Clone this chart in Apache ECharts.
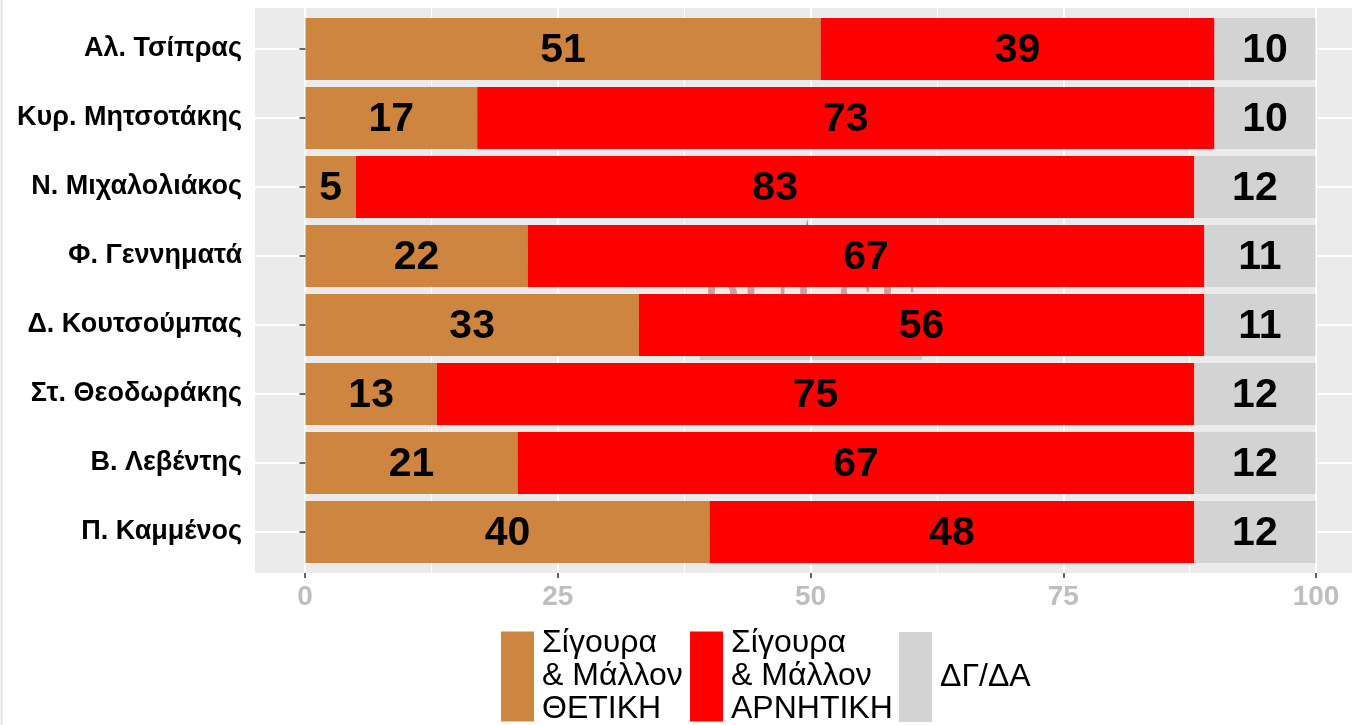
<!DOCTYPE html>
<html>
<head>
<meta charset="utf-8">
<script src="https://cdn.jsdelivr.net/npm/echarts@6/dist/echarts.min.js"></script>
<style>
html,body{margin:0;padding:0;background:#fff;}
#chart{width:1352px;height:725px;}
</style>
</head>
<body>
<div id="chart"></div>
<script>
const categories = ['Αλ. Τσίπρας','Κυρ. Μητσοτάκης','Ν. Μιχαλολιάκος','Φ. Γεννηματά','Δ. Κουτσούμπας','Στ. Θεοδωράκης','Β. Λεβέντης','Π. Καμμένος'];
const positive = [51,17,5,22,33,13,21,40];
const negative = [39,73,83,67,56,75,67,48];
const dkna = [10,10,12,11,11,12,12,12];
const seriesNames = ['Σίγουρα\n& Μάλλον\nΘΕΤΙΚΗ','Σίγουρα\n& Μάλλον\nΑΡΝΗΤΙΚΗ','ΔΓ/ΔΑ'];
const seriesColors = ['#CD853F','#FF0000','#D3D3D3'];
const xTickMin = 0, xTickMax = 100, xTickStep = 25;

const FONT = '"Liberation Sans", Arial, sans-serif';
const chart = echarts.init(document.getElementById('chart'), null, {renderer:'canvas'});

const barLabel = {show:true, position:'inside', offset:[0,2], color:'#000', fontFamily:FONT, fontWeight:'bold', fontSize:41};

function legendFor(i, left, top, pad){
  return {
    data:[seriesNames[i]], left:left, top:top, padding:0, itemGap:0,
    itemWidth:33, itemHeight:90, icon:'rect', selectedMode:false,
    textStyle:{fontFamily:FONT, fontSize:32, lineHeight:33, color:'#000', padding:pad}
  };
}

const option = {
  animation:false,
  backgroundColor:'#fff',
  grid:[
    {left:255, top:8, width:1111, height:565, show:true, backgroundColor:'#EBEBEB', borderWidth:0, outerBoundsMode:'none', containLabel:false},
    {left:305, top:8, width:1011, height:565, show:false, outerBoundsMode:'none', containLabel:false},
    {left:255, top:49, width:1111, height:483, show:false, outerBoundsMode:'none', containLabel:false}
  ],
  xAxis:[
    {gridIndex:0, type:'value', min:-5, max:105, show:false},
    {gridIndex:1, type:'value', min:xTickMin, max:xTickMax, interval:xTickStep, position:'bottom',
     axisLine:{show:false},
     axisTick:{show:true, length:5, lineStyle:{color:'#333', width:1.5}},
     minorTick:{show:false, splitNumber:2},
     splitLine:{show:true, lineStyle:{color:'#FFFFFF', width:2}},
     minorSplitLine:{show:true, lineStyle:{color:'#FFFFFF', width:1}},
     axisLabel:{margin:10, color:'#BEBEBE', fontFamily:FONT, fontWeight:'bold', fontSize:28}},
    {gridIndex:2, type:'value', min:-5, max:105, show:false}
  ],
  yAxis:[
    {gridIndex:0, type:'value', min:0, max:1, show:false},
    {gridIndex:1, type:'value', min:0, max:1, show:false},
    {gridIndex:2, type:'category', data:categories, inverse:true, boundaryGap:false,
     axisLine:{show:false},
     axisTick:{show:true, length:6, lineStyle:{color:'#333', width:1.5}},
     splitLine:{show:true, lineStyle:{color:'#FFFFFF', width:2}},
     axisLabel:{margin:13, color:'#000', fontFamily:FONT, fontWeight:'bold', fontSize:27}}
  ],
  legend:[legendFor(0,501,627,[0,0,0,3]), legendFor(1,690,627,[0,0,0,3]), legendFor(2,899,632,[4,0,0,3])],
  series:[
    {name:seriesNames[0], type:'bar', stack:'s', xAxisIndex:2, yAxisIndex:2, data:positive, barWidth:62, clip:false,
     itemStyle:{color:seriesColors[0]}, label:barLabel},
    {name:seriesNames[1], type:'bar', stack:'s', xAxisIndex:2, yAxisIndex:2, data:negative, barWidth:62, clip:false,
     itemStyle:{color:seriesColors[1]}, label:barLabel},
    {name:seriesNames[2], type:'bar', stack:'s', xAxisIndex:2, yAxisIndex:2, data:dkna, barWidth:62, clip:false,
     itemStyle:{color:seriesColors[2]}, label:barLabel}
  ],
  graphic:[
    {type:'line', z:1, shape:{x1:1.5,y1:0,x2:1.5,y2:725}, style:{stroke:'#E3E3E3', lineWidth:2}, silent:true},
    {type:'group', z:100, silent:true, children:[
      {type:'line', shape:{x1:700,y1:263,x2:922,y2:263}, style:{stroke:'rgba(190,0,0,0.4)', lineWidth:2}},
      {type:'polyline', shape:{points:[[790,263],[798,262],[803,245],[807,226],[811,288],[815,248],[819,272],[824,258],[829,263]]}, style:{stroke:'rgba(190,0,0,0.5)', lineWidth:2, fill:null}},
      {type:'text', style:{x:810, y:309, text:'PULSE', font:'72px "Liberation Serif", serif', fill:'rgba(90,0,0,0.3)', align:'center', verticalAlign:'middle'}},
      {type:'rect', shape:{x:700,y:342,width:222,height:18}, style:{fill:'rgba(128,128,128,0.28)'}},
      {type:'text', style:{x:811, y:352, text:'RESEARCH & CONSULTING', font:'15px "Liberation Serif", serif', fill:'rgba(90,0,0,0.3)', align:'center', verticalAlign:'middle'}}
    ]}
  ]
};
chart.setOption(option);
</script>
</body>
</html>
